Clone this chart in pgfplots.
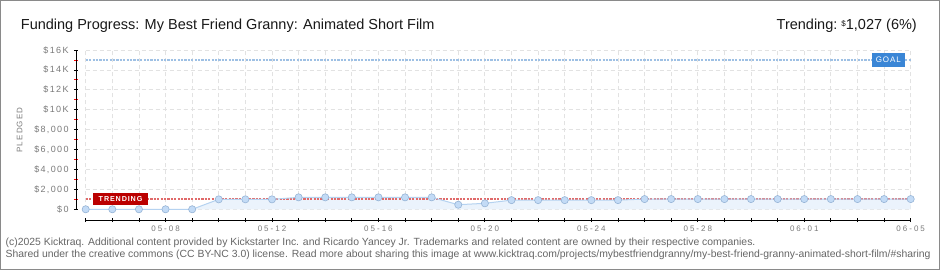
\documentclass[border=0pt]{standalone}
\usepackage{fontspec}
\setmainfont{Liberation Sans}
\newfontfamily\ylabfont{Liberation Sans}[LetterSpace=15]
\newfontfamily\xlabfont{Liberation Sans}[LetterSpace=25]
\newfontfamily\tagfont{Liberation Sans}[LetterSpace=12]
\usepackage{pgfplots}
\pgfplotsset{compat=1.18}
\definecolor{framec}{HTML}{8A8A8A}
\definecolor{gridc}{HTML}{E2E2E2}
\definecolor{labc}{HTML}{7A7A7A}
\definecolor{areac}{HTML}{EBF3FC}
\definecolor{linec}{HTML}{B5D2F0}
\definecolor{markf}{HTML}{C3DBF6}
\definecolor{markd}{HTML}{96B4D6}
\definecolor{goalc}{HTML}{9EC0E4}
\definecolor{goalbox}{HTML}{3A86D6}
\definecolor{trendc}{HTML}{E06A6A}
\definecolor{trendbox}{HTML}{BB0000}
\definecolor{footc}{HTML}{666666}

\pgfplotstableread{
x y
0 0
1 0
2 0
3 0
4 0
5 1000
6 1000
7 1000
8 1200
9 1200
10 1200
11 1200
12 1200
13 1200
14 460
15 600
16 920
17 920
18 920
19 920
20 920
21 1027
22 1027
23 1027
24 1027
25 1027
26 1027
27 1027
28 1027
29 1027
30 1027
31 1027
}\pledged

\begin{document}
\begin{tikzpicture}
\useasboundingbox (0pt,0pt) rectangle (940pt,270pt);
\fill[white] (0pt,0pt) rectangle (940pt,270pt);

% title
\node[anchor=base west, inner sep=0pt, font=\fontsize{14.5}{16}\selectfont, text=black!90] at (20.7pt,240pt) {Funding Progress: My Best Friend Granny: Animated Short Film};
\node[anchor=base east, inner sep=0pt, font=\fontsize{14.5}{16}\selectfont, text=black!90] at (917pt,240pt) {Trending:\ \raisebox{3pt}{\fontsize{8}{8}\selectfont\$}1,027 (6\%)};

% y label
\node[rotate=90, inner sep=0pt, font=\ylabfont\fontsize{8}{8}\selectfont, text=labc] at (19.7pt,140pt) {PLEDGED};

% main plot area
\begin{axis}[
  at={(85.7pt,60.7pt)}, anchor=south west, scale only axis,
  width=825pt, height=159.3pt,
  xmin=0, xmax=31, ymin=0, ymax=16000,
  scaled ticks=false,
  clip=false,
  axis line style={draw=none},
  major tick length=0pt,
  xtick={0,...,31}, ytick={0,2000,...,16000},
  xticklabels={}, yticklabels={},
  grid=major,
  grid style={gridc, line width=0.8pt, dash pattern=on 4pt off 3pt},
]
\addplot[fill=areac, draw=none] table[x=x,y=y] {\pledged} \closedcycle;
\addplot[goalc, line width=2.4pt, dash pattern=on 2.2pt off 1.2pt] coordinates {(0,15000) (31,15000)};
\addplot[trendc, line width=2.4pt, dash pattern=on 2.2pt off 1.2pt] coordinates {(0,1027) (31,1027)};
\addplot[linec, line width=1pt, mark=*, mark size=3.6pt,
  mark options={fill=markf, draw=markd, line width=0.6pt}] table[x=x,y=y] {\pledged};
\node[fill=goalbox, text=white, minimum width=33.7pt, minimum height=14pt, inner sep=0pt,
  font=\tagfont\fontsize{8}{8}\selectfont] at (axis cs:30.16,15000) {GOAL};
\node[fill=trendbox, text=white, minimum width=55pt, minimum height=12.5pt, inner sep=0pt,
  font=\tagfont\bfseries\fontsize{7.2}{8}\selectfont] at (axis cs:1.31,1027) {TRENDING};
\end{axis}

% y axis
\begin{axis}[
  at={(76pt,60.7pt)}, anchor=south west, scale only axis,
  width=5pt, height=159.3pt,
  xmin=0, xmax=1, ymin=0, ymax=16000,
  scaled ticks=false,
  axis y line*=left, axis x line=none, xtick=\empty,
  axis line style={black, line width=0.8pt},
  ytick={0,2000,...,16000},
  yticklabels={\$0,{\$2,000},{\$4,000},{\$6,000},{\$8,000},\$10K,\$12K,\$14K,\$16K},
  minor ytick={1000,3000,...,15000},
  tick align=center,
  major tick length=4.5pt, minor tick length=4.5pt,
  major tick style={black, line width=0.8pt},
  minor tick style={red, line width=0.8pt},
  yticklabel style={font=\ylabfont\fontsize{9}{9}\selectfont, text=labc, anchor=east, inner sep=0pt, xshift=-5pt},
]
\end{axis}

% x axis
\begin{axis}[
  at={(85.7pt,50pt)}, anchor=south west, scale only axis,
  width=825pt, height=5pt,
  xmin=0, xmax=31, ymin=0, ymax=1,
  scaled ticks=false,
  axis x line*=bottom, axis y line=none, ytick=\empty,
  axis line style={black, line width=0.8pt},
  xtick={0,...,31},
  xticklabels={,,,05-08,,,,05-12,,,,05-16,,,,05-20,,,,05-24,,,,05-28,,,,06-01,,,,06-05},
  tick align=center, major tick length=4.5pt,
  major tick style={black, line width=0.8pt},
  xticklabel style={font=\xlabfont\fontsize{8}{8}\selectfont, text=labc, anchor=north, inner sep=0pt, yshift=-3pt},
]
\end{axis}

% footer
\node[anchor=base west, inner sep=0pt, font=\fontsize{10.4}{11}\selectfont, text=footc] at (5.5pt,24.3pt) {(c)2025 Kicktraq. Additional content provided by Kickstarter Inc. and Ricardo Yancey Jr. Trademarks and related content are owned by their respective companies.};
\node[anchor=base west, inner sep=0pt, font=\fontsize{10.4}{11}\selectfont, text=footc] at (5.5pt,12.7pt) {Shared under the creative commons (CC BY-NC 3.0) license. Read more about sharing this image at www.kicktraq.com/projects/mybestfriendgranny/my-best-friend-granny-animated-short-film/\#sharing};

\draw[framec, line width=1.2pt] (0.6pt,0.6pt) rectangle (939.4pt,269.4pt);
\end{tikzpicture}
\end{document}
